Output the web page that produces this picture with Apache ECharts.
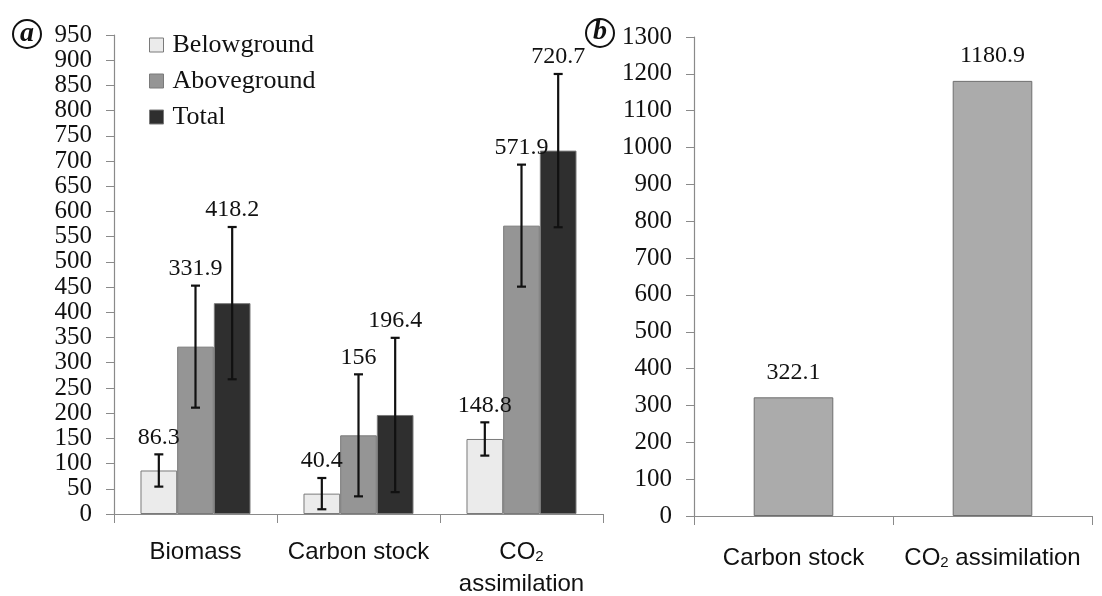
<!DOCTYPE html>
<html>
<head>
<meta charset="utf-8">
<script src="https://cdn.jsdelivr.net/npm/echarts@6/dist/echarts.min.js"></script>
<style>
  html, body { margin: 0; padding: 0; background: #fff; }
  #chart { width: 1102px; height: 596px; }
</style>
</head>
<body>
<div id="chart"></div>
<script>
// panel a: biomass, carbon stock and CO2 assimilation by compartment
const categoriesA = ["Biomass", "Carbon stock", "CO2 assimilation"];
const belowground = [86.3, 40.4, 148.8];
const aboveground = [331.9, 156, 571.9];
const total = [418.2, 196.4, 720.7];
const belowErr = [32, 31, 33];
const aboveErr = [121, 121, 121];
const totalErr = [151, 153, 152];

// panel b
const categoriesB = ["Carbon stock", "CO2 assimilation"];
const valuesB = [322.1, 1180.9];

const SERIF = '"Liberation Serif", "Times New Roman", serif';
const SANS = '"Liberation Sans", Arial, sans-serif';
const GAP = 0.325; // barCategoryGap of panel a

const chart = echarts.init(document.getElementById("chart"));

function catLabel(v, oneLine) {
  if (v.indexOf("CO2") === 0) {
    return oneLine ? "{t|CO}{s|2}{t| assimilation}" : "{t|CO}{s|2}\n{t|assimilation}";
  }
  return "{t|" + v + "}";
}

const labelRich = {
  t: { fontFamily: SANS, fontSize: 24, color: "#111", lineHeight: 32 },
  s: { fontFamily: SANS, fontSize: 15, color: "#111", lineHeight: 32, padding: [10, 0, 0, 0] },
};

// error bars + value labels drawn on top of each bar
function errorSeries(name, vals, errs, slot) {
  return {
    type: "custom",
    name: name + "-err",
    xAxisIndex: 0,
    yAxisIndex: 0,
    z: 10,
    silent: true,
    data: vals.map((v, i) => [i, v, errs[i]]),
    renderItem(params, api) {
      const cat = api.value(0), v = api.value(1), e = api.value(2);
      const c = api.coord([cat, v]);
      const catW = api.size([1, 0])[0];
      const bw = (catW * (1 - GAP)) / 3;
      const x = c[0] + (slot - 1) * bw;
      const top = api.coord([cat, v + e])[1];
      const bot = api.coord([cat, v - e])[1];
      const cap = 4.5;
      const ls = { stroke: "#111", lineWidth: 2.2 };
      return {
        type: "group",
        children: [
          { type: "line", shape: { x1: x, y1: top, x2: x, y2: bot }, style: ls },
          { type: "line", shape: { x1: x - cap, y1: top, x2: x + cap, y2: top }, style: ls },
          { type: "line", shape: { x1: x - cap, y1: bot, x2: x + cap, y2: bot }, style: ls },
          {
            type: "text",
            x: x,
            y: top - 5,
            style: {
              text: String(v),
              fill: "#111",
              font: "24px " + SERIF,
              align: "center",
              verticalAlign: "bottom",
            },
          },
        ],
      };
    },
  };
}

function barSeries(name, vals, color) {
  return {
    type: "bar",
    name: name,
    xAxisIndex: 0,
    yAxisIndex: 0,
    data: vals,
    barGap: "0%",
    barCategoryGap: GAP * 100 + "%",
    itemStyle: { color: color, borderColor: "#7a7a7a", borderWidth: 1 },
  };
}

const yAxisCommon = {
  type: "value",
  min: 0,
  axisLine: { show: true, lineStyle: { color: "#8a8a8a", width: 1.2 } },
  axisTick: { show: true, length: 8, lineStyle: { color: "#8a8a8a" } },
  splitLine: { show: false },
  axisLabel: {
    fontFamily: SERIF,
    fontSize: 25,
    color: "#111",
    margin: 22,
    formatter: (v) => String(v),
  },
};

const xAxisCommon = {
  type: "category",
  axisLine: { show: true, lineStyle: { color: "#8a8a8a", width: 1.2 } },
  axisTick: { show: true, length: 9, lineStyle: { color: "#8a8a8a" } },
  splitLine: { show: false },
};

const option = {
  backgroundColor: "#fff",
  animation: false,
  grid: [
    { left: 114, top: 35, width: 489, bottom: 80 },
    { left: 694, top: 37, width: 398, bottom: 80 },
  ],
  legend: {
    data: ["Belowground", "Aboveground", "Total"],
    orient: "vertical",
    left: 149,
    top: 32,
    padding: 0,
    itemGap: 10,
    itemWidth: 14,
    itemHeight: 14,
    icon: "rect",
    itemStyle: { borderColor: "#7a7a7a", borderWidth: 1 },
    textStyle: { fontFamily: SERIF, fontSize: 26, lineHeight: 26, color: "#111", padding: [0, 0, 0, 4] },
  },
  xAxis: [
    Object.assign({}, xAxisCommon, {
      gridIndex: 0,
      data: categoriesA,
      axisLabel: { margin: 22, formatter: (v) => catLabel(v, false), rich: labelRich },
    }),
    Object.assign({}, xAxisCommon, {
      gridIndex: 1,
      data: categoriesB,
      axisLabel: { margin: 26, formatter: (v) => catLabel(v, true), rich: labelRich },
    }),
  ],
  yAxis: [
    Object.assign({}, yAxisCommon, { gridIndex: 0, max: 950, interval: 50 }),
    Object.assign({}, yAxisCommon, { gridIndex: 1, max: 1300, interval: 100 }),
  ],
  series: [
    barSeries("Belowground", belowground, "#ebebeb"),
    barSeries("Aboveground", aboveground, "#959595"),
    barSeries("Total", total, "#2f2f2f"),
    errorSeries("Belowground", belowground, belowErr, 0),
    errorSeries("Aboveground", aboveground, aboveErr, 1),
    errorSeries("Total", total, totalErr, 2),
    {
      type: "bar",
      name: "Panel b",
      xAxisIndex: 1,
      yAxisIndex: 1,
      data: valuesB,
      barCategoryGap: "60%",
      itemStyle: { color: "#ababab", borderColor: "#6e6e6e", borderWidth: 1 },
      label: {
        show: true,
        position: "top",
        distance: 13,
        fontFamily: SERIF,
        fontSize: 24,
        color: "#111",
      },
    },
  ],
  graphic: [
    { type: "circle", shape: { cx: 27, cy: 34, r: 14 }, style: { fill: "none", stroke: "#111", lineWidth: 2 } },
    {
      type: "text",
      x: 27,
      y: 34,
      style: { text: "a", font: "italic bold 28px " + SERIF, fill: "#111", align: "center", verticalAlign: "middle" },
    },
    { type: "circle", shape: { cx: 600, cy: 33, r: 14 }, style: { fill: "none", stroke: "#111", lineWidth: 2 } },
    {
      type: "text",
      x: 600,
      y: 32,
      style: { text: "b", font: "italic bold 28px " + SERIF, fill: "#111", align: "center", verticalAlign: "middle" },
    },
  ],
};

chart.setOption(option);
</script>
</body>
</html>
